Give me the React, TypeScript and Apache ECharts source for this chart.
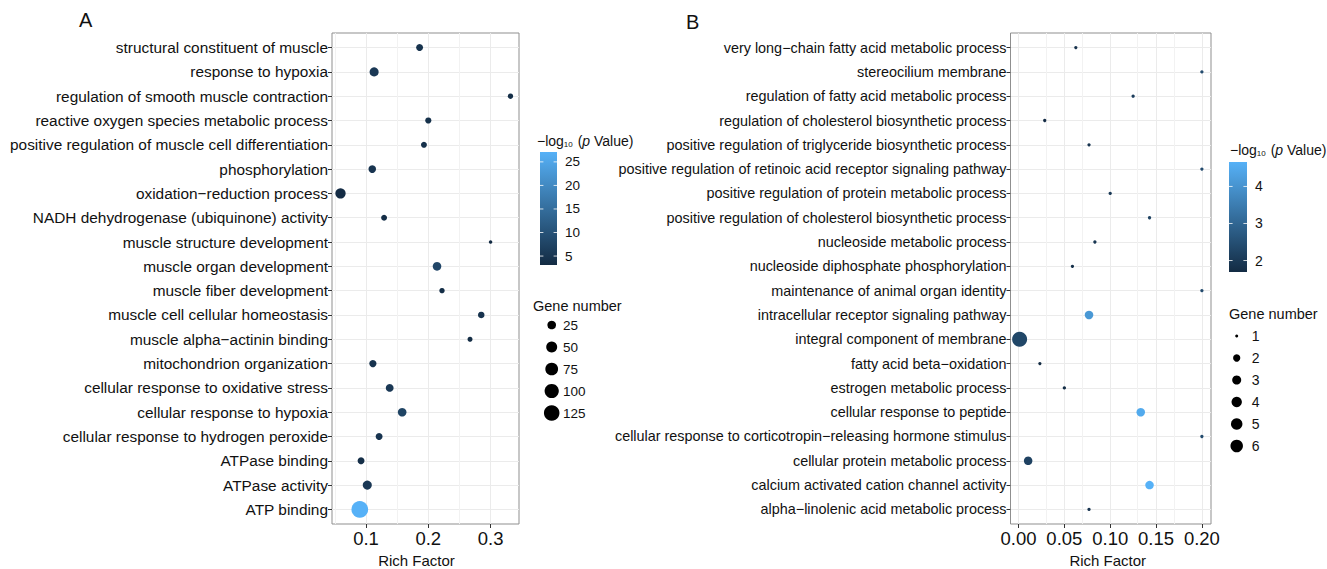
import React, { useEffect, useRef } from 'react';
import * as echarts from 'echarts';

// ---------------- data ----------------
const termsA = [
  'structural constituent of muscle',
  'response to hypoxia',
  'regulation of smooth muscle contraction',
  'reactive oxygen species metabolic process',
  'positive regulation of muscle cell differentiation',
  'phosphorylation',
  'oxidation−reduction process',
  'NADH dehydrogenase (ubiquinone) activity',
  'muscle structure development',
  'muscle organ development',
  'muscle fiber development',
  'muscle cell cellular homeostasis',
  'muscle alpha−actinin binding',
  'mitochondrion organization',
  'cellular response to oxidative stress',
  'cellular response to hypoxia',
  'cellular response to hydrogen peroxide',
  'ATPase binding',
  'ATPase activity',
  'ATP binding',
];
const richA = [0.186, 0.113, 0.332, 0.2, 0.193, 0.11, 0.059, 0.129, 0.3, 0.214, 0.222, 0.285, 0.267, 0.111, 0.138, 0.158, 0.121, 0.092, 0.102, 0.09];
const genesA = [13, 29, 6, 9, 8, 17, 42, 8, 3, 25, 6, 11, 5, 15, 19, 25, 13, 13, 29, 150];
const logpA = [4.5, 5.5, 3.8, 4.2, 4.2, 4.8, 3.3, 3.6, 3.1, 8.0, 3.6, 4.5, 3.4, 4.5, 5.5, 7.5, 4.8, 3.8, 5.5, 27.1];

const termsB = [
  'very long−chain fatty acid metabolic process',
  'stereocilium membrane',
  'regulation of fatty acid metabolic process',
  'regulation of cholesterol biosynthetic process',
  'positive regulation of triglyceride biosynthetic process',
  'positive regulation of retinoic acid receptor signaling pathway',
  'positive regulation of protein metabolic process',
  'positive regulation of cholesterol biosynthetic process',
  'nucleoside metabolic process',
  'nucleoside diphosphate phosphorylation',
  'maintenance of animal organ identity',
  'intracellular receptor signaling pathway',
  'integral component of membrane',
  'fatty acid beta−oxidation',
  'estrogen metabolic process',
  'cellular response to peptide',
  'cellular response to corticotropin−releasing hormone stimulus',
  'cellular protein metabolic process',
  'calcium activated cation channel activity',
  'alpha−linolenic acid metabolic process',
];
const richB = [0.0625, 0.2, 0.125, 0.0286, 0.0769, 0.2, 0.1, 0.1429, 0.0833, 0.0588, 0.2, 0.0769, 0.0012, 0.0233, 0.05, 0.1333, 0.2, 0.0105, 0.1429, 0.0769];
const genesB = [1, 1, 1, 1, 1, 1, 1, 1, 1, 1, 1, 2, 6, 1, 1, 2, 1, 2, 2, 1];
const logpB = [1.85, 2.4, 2.1, 1.7, 1.9, 2.4, 2.0, 2.2, 1.95, 1.8, 2.4, 4.1, 2.3, 1.69, 1.75, 4.5, 2.4, 2.2, 4.66, 1.9];

const xTicksA = [0.1, 0.2, 0.3];
const xMinorA = [0.05, 0.15, 0.25];
const xTicksB = [0, 0.05, 0.1, 0.15, 0.2];
const xMinorB = [0.025, 0.075, 0.125, 0.175];
const pBreaksA = [5, 10, 15, 20, 25];
const pBreaksB = [2, 3, 4];
const geneBreaksA = [25, 50, 75, 100, 125];
const geneBreaksB = [1, 2, 3, 4, 5, 6];

// ---------------- styling ----------------
const FONT = '"Liberation Sans", Arial, Helvetica, sans-serif';
const LOW = '#132B43';
const HIGH = '#56B1F7';
const GRID = '#EBEBEB';
const MINOR = '#F2F2F2';
const BORDER = '#8f8f8f';
const TXT = '#111111';

const expand = (vals: number[]) => {
  const mn = Math.min(...vals);
  const mx = Math.max(...vals);
  const r = mx - mn;
  return [mn - 0.05 * r, mx + 0.05 * r];
};

const gMinA = Math.min(...genesA);
const gMaxA = Math.max(...genesA);
const sizeA = (n: number) => 3.5 + 13.2 * Math.sqrt((n - gMinA) / (gMaxA - gMinA));
const gMinB = Math.min(...genesB);
const gMaxB = Math.max(...genesB);
const sizeB = (n: number) => 3.3 + 11.7 * Math.sqrt((n - gMinB) / (gMaxB - gMinB));
const legendSizeB = (n: number) => 3 + 9.5 * Math.sqrt((n - gMinB) / (gMaxB - gMinB));

const idx = (arr: string[]) => arr.map((_, i) => i);

function yAxisFor(grid: number, terms: string[], fontSize: number) {
  const vals = idx(terms);
  return {
    gridIndex: grid,
    type: 'value',
    min: -0.6,
    max: terms.length - 1 + 0.6,
    inverse: true,
    splitNumber: terms.length,
    axisLine: { show: false, onZero: false },
    axisTick: { show: true, length: 4, lineStyle: { color: '#333', width: 1 }, customValues: vals },
    axisLabel: {
      customValues: vals,
      fontSize,
      color: TXT,
      fontFamily: FONT,
      margin: 4,
      formatter: (v: number) => {
        const k = Math.round(v);
        return Math.abs(k - v) < 1e-6 && k >= 0 && k < terms.length ? terms[k] : '';
      },
    },
    splitLine: { show: true, lineStyle: { color: GRID, width: 1 } },
  };
}

function xAxisFor(grid: number, range: number[], ticks: number[], splitNumber: number, digits: number, namePad: number[]) {
  return {
    gridIndex: grid,
    type: 'value',
    position: 'bottom',
    min: range[0],
    max: range[1],
    splitNumber,
    axisLine: { show: false, onZero: false },
    axisTick: { show: true, length: 4, lineStyle: { color: '#333', width: 1 }, customValues: ticks },
    axisLabel: {
      customValues: ticks,
      fontSize: 18.5,
      color: TXT,
      fontFamily: FONT,
      margin: 5,
      formatter: (v: number) => (ticks.some((t) => Math.abs(t - v) < 1e-9) ? v.toFixed(digits) : ''),
    },
    splitLine: { show: true, lineStyle: { color: GRID, width: 1 } },
    name: 'Rich Factor',
    nameLocation: 'middle',
    nameGap: 29,
    nameTextStyle: { fontSize: 15, color: TXT, fontFamily: FONT, padding: namePad },
  };
}

function colorbar(x: number, y: number, w: number, h: number, min: number, max: number, breaks: number[], titleX: number, titleY: number, labelX: number, labelSize: number) {
  const els: any[] = [];
  els.push({
    type: 'text',
    x: titleX,
    y: titleY,
    style: {
      text: '{a|−log}{s|10}{a| (}{i|p}{a| Value)}',
      verticalAlign: 'middle',
      fill: TXT,
      rich: {
        a: { fontSize: 14, fontFamily: FONT, fill: TXT },
        s: { fontSize: 8, fontFamily: FONT, fill: TXT, verticalAlign: 'bottom', padding: [0, 1, 0, 0] },
        i: { fontSize: 14, fontFamily: FONT, fill: TXT, fontStyle: 'italic' },
      },
    },
  });
  els.push({
    type: 'rect',
    shape: { x, y, width: w, height: h },
    style: {
      fill: new echarts.graphic.LinearGradient(0, 1, 0, 0, [
        { offset: 0, color: LOW },
        { offset: 1, color: HIGH },
      ]),
    },
  });
  breaks.forEach((b) => {
    const yy = y + h - ((b - min) / (max - min)) * h;
    els.push({ type: 'line', shape: { x1: x, y1: yy, x2: x + w / 5, y2: yy }, style: { stroke: '#ffffff', lineWidth: 1, opacity: 0.8 } });
    els.push({ type: 'line', shape: { x1: x + w - w / 5, y1: yy, x2: x + w, y2: yy }, style: { stroke: '#ffffff', lineWidth: 1, opacity: 0.8 } });
    els.push({
      type: 'text',
      x: labelX,
      y: yy,
      style: { text: String(b), fontSize: labelSize, fontFamily: FONT, fill: TXT, verticalAlign: 'middle', align: 'left' },
    });
  });
  return els;
}

function sizeLegend(titleX: number, titleY: number, cx: number, y0: number, step: number, labelX: number, breaks: number[], size: (n: number) => number, labelSize: number) {
  const els: any[] = [];
  els.push({
    type: 'text',
    x: titleX,
    y: titleY,
    style: { text: 'Gene number', fontSize: 14.5, fontFamily: FONT, fill: TXT, verticalAlign: 'middle' },
  });
  breaks.forEach((b, i) => {
    const yy = y0 + i * step;
    els.push({ type: 'circle', shape: { cx, cy: yy, r: size(b) / 2 }, style: { fill: '#000000' } });
    els.push({
      type: 'text',
      x: labelX,
      y: yy,
      style: { text: String(b), fontSize: labelSize, fontFamily: FONT, fill: TXT, verticalAlign: 'middle', align: 'left' },
    });
  });
  return els;
}

function minorLines(vals: number[]) {
  return {
    silent: true,
    symbol: ['none', 'none'],
    label: { show: false },
    emphasis: { disabled: true },
    lineStyle: { color: MINOR, width: 1, type: 'solid' },
    z: 1,
    animation: false,
    data: vals.map((v) => ({ xAxis: v })),
  };
}

export default function App() {
  const ref = useRef<HTMLDivElement>(null);
  useEffect(() => {
    document.body.style.margin = '0';
    if (!ref.current) return;
    const chart = echarts.init(ref.current, undefined, { renderer: 'svg' });
    const rangeA = expand(richA);
    const rangeB = expand(richB);
    const dataA = termsA.map((_, i) => [richA[i], i, genesA[i], logpA[i]]);
    const dataB = termsB.map((_, i) => [richB[i], i, genesB[i], logpB[i]]);
    const pMinA = Math.min(...logpA), pMaxA = Math.max(...logpA);
    const pMinB = Math.min(...logpB), pMaxB = Math.max(...logpB);

    const option: any = {
      animation: false,
      textStyle: { fontFamily: FONT },
      grid: [
        { left: 332, top: 33, width: 187, height: 491, show: true, borderColor: BORDER, borderWidth: 1, backgroundColor: 'rgba(0,0,0,0)', containLabel: false, outerBoundsMode: 'none' },
        { left: 1010.5, top: 33, width: 200.5, height: 491, show: true, borderColor: BORDER, borderWidth: 1, backgroundColor: 'rgba(0,0,0,0)', containLabel: false, outerBoundsMode: 'none' },
      ],
      xAxis: [
        xAxisFor(0, rangeA, xTicksA, 3, 1, [0, 18, 0, 0]),
        xAxisFor(1, rangeB, xTicksB, 4, 2, [0, 6, 0, 0]),
      ],
      yAxis: [yAxisFor(0, termsA, 15.4), yAxisFor(1, termsB, 14.4)],
      visualMap: [
        { type: 'continuous', show: false, seriesIndex: 0, dimension: 3, min: pMinA, max: pMaxA, inRange: { color: [LOW, HIGH] } },
        { type: 'continuous', show: false, seriesIndex: 1, dimension: 3, min: pMinB, max: pMaxB, inRange: { color: [LOW, HIGH] } },
      ],
      series: [
        {
          type: 'scatter',
          xAxisIndex: 0,
          yAxisIndex: 0,
          data: dataA,
          symbol: 'circle',
          symbolSize: (v: number[]) => sizeA(v[2]),
          itemStyle: { opacity: 1 },
          z: 10,
          markLine: minorLines(xMinorA),
        },
        {
          type: 'scatter',
          xAxisIndex: 1,
          yAxisIndex: 1,
          data: dataB,
          symbol: 'circle',
          symbolSize: (v: number[]) => sizeB(v[2]),
          itemStyle: { opacity: 1 },
          z: 10,
          markLine: minorLines(xMinorB),
        },
      ],
      graphic: [
        { type: 'text', x: 79, y: 20, style: { text: 'A', fontSize: 20, fontFamily: FONT, fill: TXT, verticalAlign: 'middle' } },
        { type: 'text', x: 686, y: 22, style: { text: 'B', fontSize: 20, fontFamily: FONT, fill: TXT, verticalAlign: 'middle' } },
        ...colorbar(540, 152, 17, 113, pMinA, pMaxA, pBreaksA, 537, 141, 565, 13.5),
        ...sizeLegend(533, 306, 551.7, 325, 22, 563, geneBreaksA, sizeA, 13.5),
        ...colorbar(1229, 162, 18, 110, pMinB, pMaxB, pBreaksB, 1230, 150, 1255, 14),
        ...sizeLegend(1229, 314, 1236.7, 336, 22, 1251.7, geneBreaksB, legendSizeB, 14),
      ],
    };
    chart.setOption(option);
    return () => chart.dispose();
  }, []);
  return <div ref={ref} style={{ width: 1327, height: 569 }} />;
}
